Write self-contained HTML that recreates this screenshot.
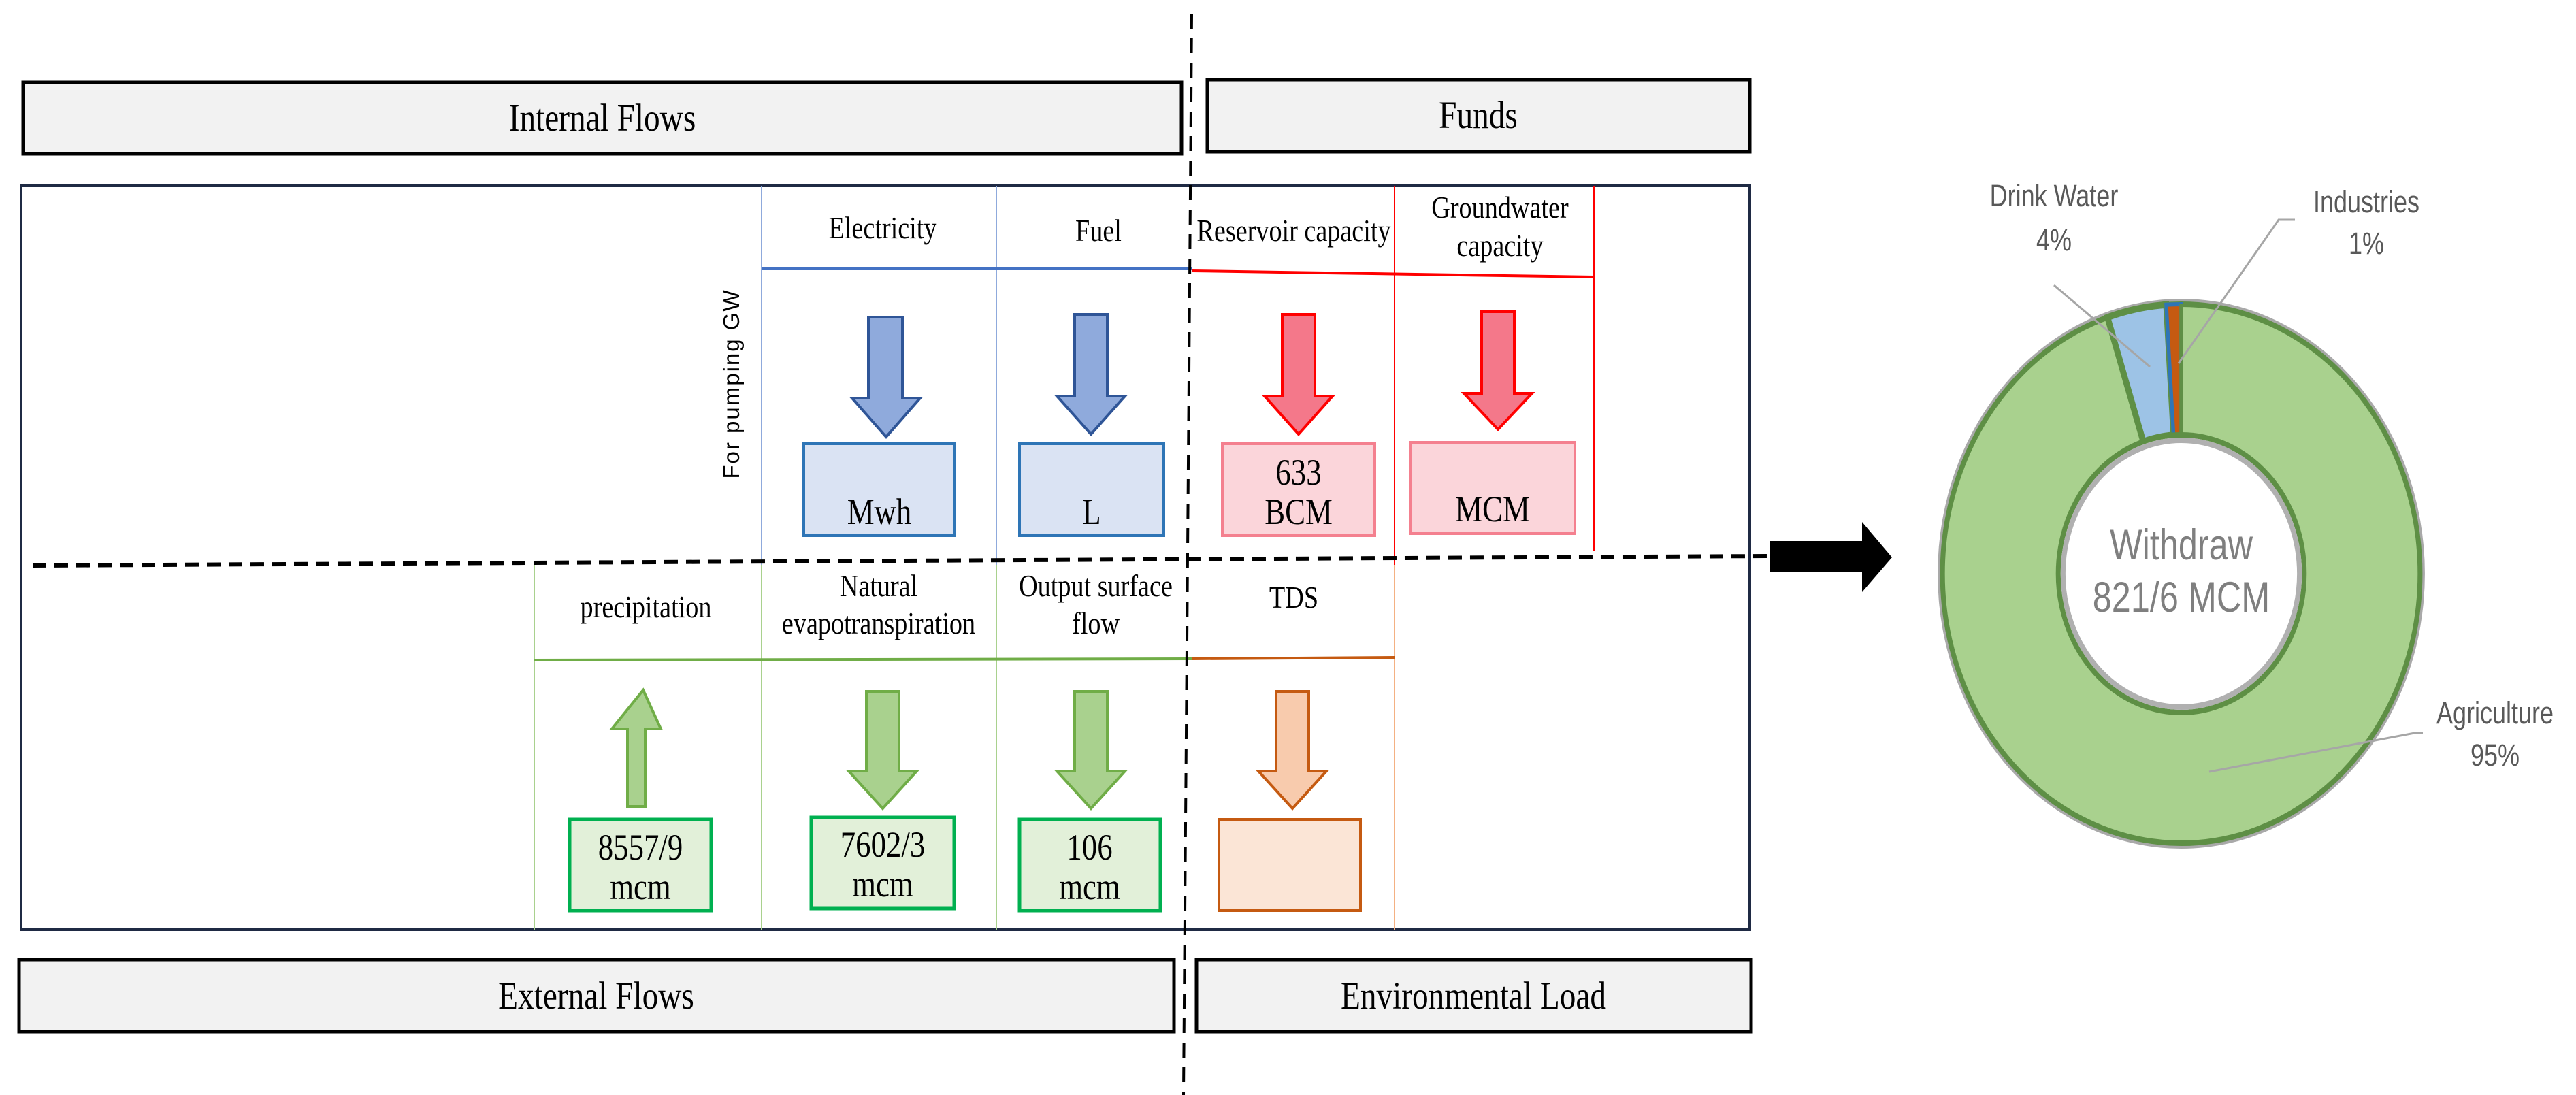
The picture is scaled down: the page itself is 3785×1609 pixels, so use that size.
<!DOCTYPE html>
<html><head><meta charset="utf-8"><style>html,body{margin:0;padding:0;background:#fff}svg{display:block}
.c{transform-box:fill-box;transform-origin:center;transform:scaleX(0.83)}
.d{transform-box:fill-box;transform-origin:center;transform:scaleX(0.8)}</style></head>
<body>
<svg width="3785" height="1609" viewBox="0 0 3785 1609" xmlns="http://www.w3.org/2000/svg">
<g font-family="Liberation Serif, serif" fill="#000">
<rect x="34" y="121" width="1702" height="105" fill="#f2f2f2" stroke="#000" stroke-width="5"/>
<text class="c" x="885" y="192" font-size="57" text-anchor="middle">Internal Flows</text>
<rect x="1774" y="117" width="797" height="106" fill="#f2f2f2" stroke="#000" stroke-width="5"/>
<text class="c" x="2172" y="188" font-size="57" text-anchor="middle">Funds</text>
<rect x="28" y="1410" width="1697" height="106" fill="#f2f2f2" stroke="#000" stroke-width="5"/>
<text class="c" x="876" y="1482" font-size="57" text-anchor="middle">External Flows</text>
<rect x="1758" y="1410" width="815" height="106" fill="#f2f2f2" stroke="#000" stroke-width="5"/>
<text class="c" x="2165" y="1482" font-size="57" text-anchor="middle">Environmental Load</text>

<rect x="31" y="273" width="2540" height="1093" fill="none" stroke="#1f2a44" stroke-width="4"/>

<line x1="1119" y1="273" x2="1119" y2="1366" stroke="#8faadc" stroke-width="2"/>
<line x1="1464" y1="273" x2="1464" y2="1366" stroke="#8faadc" stroke-width="2"/>
<line x1="1119" y1="830" x2="1119" y2="1366" stroke="#a9d18e" stroke-width="2"/>
<line x1="1464" y1="830" x2="1464" y2="1366" stroke="#a9d18e" stroke-width="2"/>
<line x1="785" y1="830" x2="785" y2="1366" stroke="#a9d18e" stroke-width="2"/>
<line x1="2049" y1="273" x2="2049" y2="830" stroke="#ff0000" stroke-width="2"/>
<line x1="2049" y1="830" x2="2049" y2="1366" stroke="#f4b183" stroke-width="2"/>
<line x1="2342" y1="273" x2="2342" y2="809" stroke="#ff0000" stroke-width="2"/>
<line x1="1119" y1="395" x2="1751" y2="395" stroke="#4472c4" stroke-width="4"/>
<line x1="1751" y1="398" x2="2342" y2="407" stroke="#ff0000" stroke-width="4"/>
<line x1="785" y1="970" x2="1751" y2="968" stroke="#70ad47" stroke-width="4"/>
<line x1="1751" y1="968" x2="2049" y2="966" stroke="#c55a11" stroke-width="4"/>

<line x1="1751" y1="20" x2="1739" y2="1609" stroke="#000" stroke-width="4" stroke-dasharray="22,14"/>
<line x1="48" y1="831" x2="2600" y2="817" stroke="#000" stroke-width="6" stroke-dasharray="20,12"/>

<g font-size="46" text-anchor="middle">
<text class="c" x="1297" y="350">Electricity</text>
<text class="c" x="1614" y="354">Fuel</text>
<text class="c" x="1901" y="354">Reservoir capacity</text>
<text class="c" x="2204" y="320">Groundwater</text>
<text class="c" x="2204" y="376">capacity</text>
<text class="c" x="949" y="907">precipitation</text>
<text class="c" x="1291" y="876">Natural</text>
<text class="c" x="1291" y="931">evapotranspiration</text>
<text class="c" x="1610" y="876">Output surface</text>
<text class="c" x="1610" y="931">flow</text>
<text class="c" x="1901" y="893">TDS</text>
</g>
<text transform="translate(1086,564) rotate(-90)" font-family="Liberation Sans, sans-serif" font-size="33" text-anchor="middle" letter-spacing="2">For pumping GW</text>

<polygon points="1276,466 1326,466 1326,585 1352,585 1302,642 1252,585 1276,585" fill="#8faadc" stroke="#2f5597" stroke-width="4"/>
<polygon points="1579,462 1627,462 1627,582 1653,582 1603,638 1553,582 1579,582" fill="#8faadc" stroke="#2f5597" stroke-width="4"/>
<polygon points="1884,462 1932,462 1932,582 1958,582 1908,638 1858,582 1884,582" fill="#f4788a" stroke="#ff0000" stroke-width="4"/>
<polygon points="2177,458 2225,458 2225,578 2251,578 2201,631 2151,578 2177,578" fill="#f4788a" stroke="#ff0000" stroke-width="4"/>

<rect x="1181" y="652" width="222" height="135" fill="#dae3f3" stroke="#2e75b6" stroke-width="4"/>
<rect x="1498" y="652" width="212" height="135" fill="#dae3f3" stroke="#2e75b6" stroke-width="4"/>
<rect x="1796" y="652" width="224" height="135" fill="#fbd5da" stroke="#f4808f" stroke-width="4"/>
<rect x="2073" y="650" width="241" height="134" fill="#fbd5da" stroke="#f4808f" stroke-width="4"/>
<g font-size="54" text-anchor="middle">
<text class="c" x="1292" y="770">Mwh</text>
<text class="c" x="1604" y="770">L</text>
<text class="c" x="1908" y="712">633</text>
<text class="c" x="1908" y="770">BCM</text>
<text class="c" x="2193" y="766">MCM</text>
</g>

<polygon points="945,1014 971,1071 948,1071 948,1185 922,1185 922,1071 899,1071" fill="#a9d18e" stroke="#70ad47" stroke-width="4"/>
<polygon points="1273,1016 1321,1016 1321,1133 1347,1133 1297,1188 1247,1133 1273,1133" fill="#a9d18e" stroke="#70ad47" stroke-width="4"/>
<polygon points="1579,1016 1627,1016 1627,1133 1653,1133 1603,1188 1553,1133 1579,1133" fill="#a9d18e" stroke="#70ad47" stroke-width="4"/>
<polygon points="1875,1016 1923,1016 1923,1133 1949,1133 1899,1188 1849,1133 1875,1133" fill="#f8cbad" stroke="#c55a11" stroke-width="4"/>

<rect x="837" y="1204" width="208" height="134" fill="#e2f0d9" stroke="#00b050" stroke-width="5"/>
<rect x="1192" y="1201" width="210" height="134" fill="#e2f0d9" stroke="#00b050" stroke-width="5"/>
<rect x="1498" y="1204" width="207" height="134" fill="#e2f0d9" stroke="#00b050" stroke-width="5"/>
<rect x="1791" y="1204" width="208" height="134" fill="#fbe5d6" stroke="#c55a11" stroke-width="4"/>
<g font-size="54" text-anchor="middle">
<text class="c" x="941" y="1263">8557/9</text>
<text class="c" x="941" y="1321">mcm</text>
<text class="c" x="1297" y="1259">7602/3</text>
<text class="c" x="1297" y="1317">mcm</text>
<text class="c" x="1601" y="1263">106</text>
<text class="c" x="1601" y="1321">mcm</text>
</g>
</g>

<polygon points="2600,795 2736,795 2736,767 2780,819 2736,870 2736,841 2600,841" fill="#000"/>

<g transform="translate(3205,843) scale(0.886,1)">
<circle r="404" fill="#a9a9a9"/>
<circle r="396" fill="#a9d18e" stroke="#5e8f45" stroke-width="8"/>
<path d="M -122.3 -376.6 A 396 396 0 0 1 -24.9 -395.2 L -12.8 -203.6 A 204 204 0 0 0 -63.0 -194.0 Z" fill="#9dc3e6" stroke="#5e8f45" stroke-width="10"/>
<path d="M -24.9 -395.2 A 396 396 0 0 1 0 -396 L 0 -204 L -12.8 -203.6 Z" fill="#c55a11" stroke="#2e75b6" stroke-width="6"/>
<line x1="0" y1="-396" x2="0" y2="-204" stroke="#5e8f45" stroke-width="6"/>
<circle r="204" fill="#fff" stroke="#5e8f45" stroke-width="8"/>
<circle r="196" fill="#fff" stroke="#b0b0b0" stroke-width="8"/>
</g>
<polyline points="3018,419 3159,539" fill="none" stroke="#a6a6a6" stroke-width="3"/>
<polyline points="3372,323 3348,323 3201,534" fill="none" stroke="#a6a6a6" stroke-width="3"/>
<polyline points="3246,1134 3548,1077 3560,1077" fill="none" stroke="#a6a6a6" stroke-width="3"/>
<g font-family="Liberation Sans, sans-serif" fill="#595959" text-anchor="middle">
<text class="d" x="3018" y="303" font-size="45">Drink Water</text>
<text class="d" x="3018" y="368" font-size="45">4%</text>
<text class="d" x="3477" y="312" font-size="45">Industries</text>
<text class="d" x="3477" y="373" font-size="45">1%</text>
<text class="d" x="3666" y="1063" font-size="45">Agriculture</text>
<text class="d" x="3666" y="1125" font-size="45">95%</text>
<text class="d" x="3205" y="822" font-size="63" fill="#7f7f7f">Withdraw</text>
<text class="d" x="3205" y="899" font-size="63" fill="#7f7f7f">821/6 MCM</text>
</g>
</svg>
</body></html>
